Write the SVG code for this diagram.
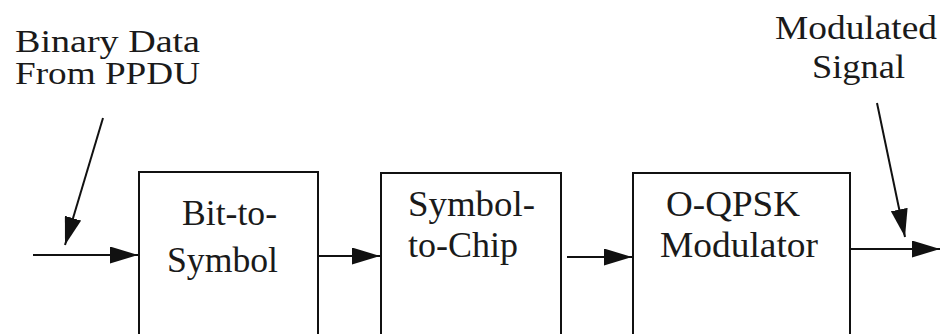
<svg xmlns="http://www.w3.org/2000/svg" width="941" height="334" viewBox="0 0 941 334">
  <style>
    .box { fill: #ffffff; stroke: #111111; stroke-width: 2; }
    .wire { fill: none; stroke: #111111; stroke-width: 2; marker-end: url(#head); }
    .lbl { fill: #1a1a1a; }
  </style>
  <defs>
    <marker id="head" markerUnits="userSpaceOnUse" markerWidth="28" markerHeight="17" refX="28" refY="8.5" orient="auto">
      <path d="M0,0 L28,8.5 L0,17 Z" fill="#111111"/>
    </marker>
  </defs>
  <rect width="941" height="334" fill="#ffffff"/>

  <g font-family="Liberation Serif, Times New Roman, Times, Noto Serif, DejaVu Serif, FreeSerif, serif">
    <!-- free-standing labels -->
    <g id="input-label" class="lbl" font-size="31">
      <text x="15" y="52" textLength="185" lengthAdjust="spacingAndGlyphs">Binary Data</text>
      <text x="15" y="84" textLength="185" lengthAdjust="spacingAndGlyphs">From PPDU</text>
    </g>
    <g id="output-label" class="lbl" font-size="33">
      <text x="775" y="39" textLength="162" lengthAdjust="spacingAndGlyphs">Modulated</text>
      <text x="812" y="78" textLength="93" lengthAdjust="spacingAndGlyphs">Signal</text>
    </g>

    <!-- processing blocks -->
    <g id="bit-to-symbol">
      <rect class="box" x="139" y="172" width="179" height="200"/>
      <g class="lbl" font-size="36">
        <text x="182" y="225" textLength="95" lengthAdjust="spacingAndGlyphs">Bit-to-</text>
        <text x="167" y="272" textLength="111" lengthAdjust="spacingAndGlyphs">Symbol</text>
      </g>
    </g>
    <g id="symbol-to-chip">
      <rect class="box" x="381" y="173" width="180" height="200"/>
      <g class="lbl" font-size="36">
        <text x="408" y="216" textLength="127" lengthAdjust="spacingAndGlyphs">Symbol-</text>
        <text x="408" y="257" textLength="110" lengthAdjust="spacingAndGlyphs">to-Chip</text>
      </g>
    </g>
    <g id="oqpsk-modulator">
      <rect class="box" x="633" y="173" width="217" height="200"/>
      <g class="lbl" font-size="36">
        <text x="666" y="216" textLength="134" lengthAdjust="spacingAndGlyphs">O-QPSK</text>
        <text x="660" y="257" textLength="158" lengthAdjust="spacingAndGlyphs">Modulator</text>
      </g>
    </g>
  </g>

  <!-- signal flow -->
  <g id="connectors">
    <path class="wire" d="M33,255 H138"/>
    <path class="wire" d="M318,256 H380"/>
    <path class="wire" d="M567,257 H632"/>
    <path class="wire" d="M850,249 H940"/>
    <path class="wire" d="M103,118 L65,245"/>
    <path class="wire" d="M877,103 L905,237"/>
  </g>
</svg>
